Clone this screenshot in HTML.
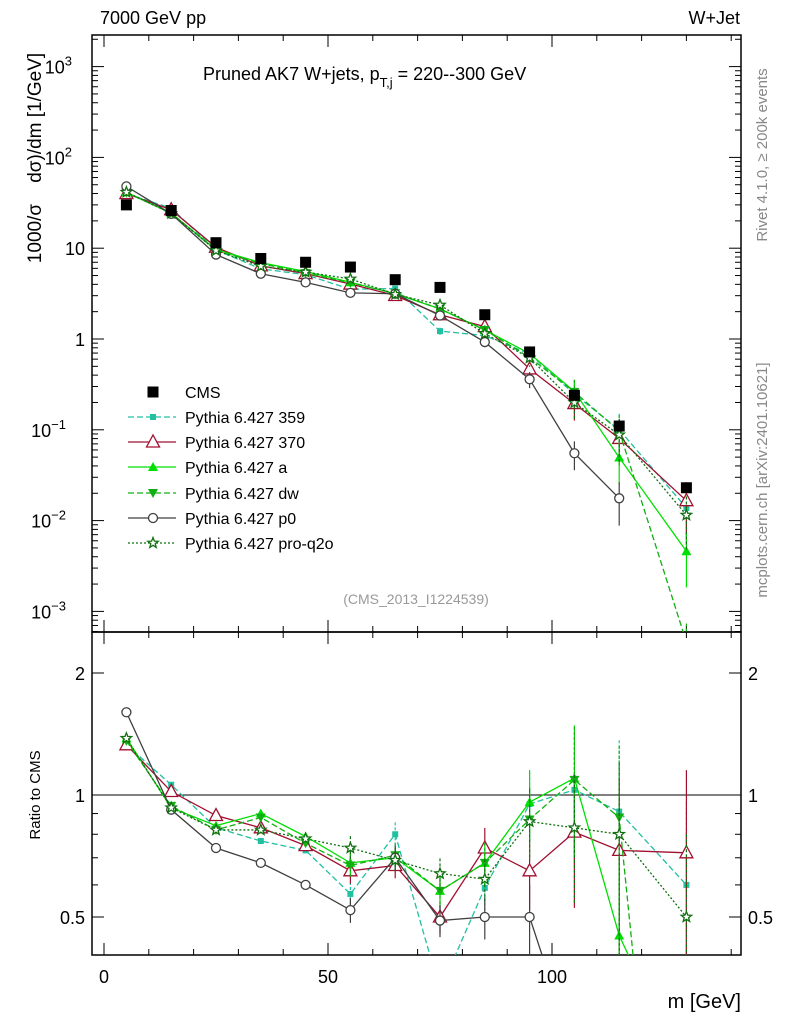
<!DOCTYPE html>
<html><head><meta charset="utf-8"><style>
body{margin:0;background:#fff;overflow:hidden;}
svg{display:block;}
svg text{font-family:"Liberation Sans",sans-serif;}
</style></head><body>
<svg id="c" width="786" height="1024" xmlns="http://www.w3.org/2000/svg"></svg>
<script>
const bins=[5,15,25,35,45,55,65,75,85,95,105,115,130];
const cmsVals=[30,26,11.5,7.7,7.0,6.2,4.5,3.7,1.85,0.72,0.24,0.11,0.023];
const r359=[1.33,1.06,0.83,0.77,0.73,0.57,0.80,0.33,0.59,0.95,1.03,0.91,0.60];
const r370=[1.33,1.02,0.89,0.83,0.75,0.65,0.67,0.50,0.74,0.65,0.81,0.73,0.72];
const rA=[1.38,0.93,0.84,0.90,0.79,0.68,0.70,0.58,0.68,0.96,1.10,0.45,0.2];
const rDW=[1.36,0.94,0.82,0.88,0.76,0.67,0.71,0.58,0.68,0.87,1.09,0.88,0.02];
const rP0=[1.60,0.92,0.74,0.68,0.60,0.52,0.70,0.49,0.50,0.50,0.23,0.16,null];
const rQ2O=[1.38,0.93,0.82,0.82,0.78,0.74,0.69,0.64,0.62,0.86,0.83,0.80,0.50];
const relErr=[0.03,0.03,0.04,0.05,0.06,0.07,0.07,0.09,0.12,0.2,0.35,0.5,0.6];
const xTicks=[0,50,100];
const series=[
 {name:"Pythia 6.427 359",r:r359,col:"#20c0a0",dash:"6,3",m:"sq"},
 {name:"Pythia 6.427 370",r:r370,col:"#a01030",dash:"",m:"tri-open"},
 {name:"Pythia 6.427 a",r:rA,col:"#00e000",dash:"",m:"tri"},
 {name:"Pythia 6.427 dw",r:rDW,col:"#10b010",dash:"6,3",m:"tri-down"},
 {name:"Pythia 6.427 p0",r:rP0,col:"#404040",dash:"",m:"circ"},
 {name:"Pythia 6.427 pro-q2o",r:rQ2O,col:"#107010",dash:"2,2",m:"star"}];
const NS="http://www.w3.org/2000/svg",svg=document.getElementById('c');
const L=92,R=741,T1=35,B1=632,B2=955;
const X=v=>104+v*4.48;
const Y1=v=>339-Math.log10(v)*90.8;
const Y2=v=>795-Math.log2(v)*122;
function el(t,a,p){const e=document.createElementNS(NS,t);for(const k in a)e.setAttribute(k,a[k]);(p||svg).appendChild(e);return e;}
function txt(s,x,y,sz,anch,extra,p){const e=el('text',Object.assign({x:x,y:y,'font-size':sz,'text-anchor':anch||'start'},extra||{}),p);e.textContent=s;return e;}
const defs=el('defs',{});
const c1=el('clipPath',{id:'c1'},defs);el('rect',{x:L,y:T1,width:R-L,height:B1-T1},c1);
const c2=el('clipPath',{id:'c2'},defs);el('rect',{x:L,y:B1,width:R-L,height:B2-B1},c2);
const f1=el('rect',{x:L,y:T1,width:R-L,height:B1-T1,fill:'none',stroke:'#000','stroke-width':1.5});

const f2=el('rect',{x:L,y:B1,width:R-L,height:B2-B1,fill:'none',stroke:'#000','stroke-width':1.5});

for(let v=0;v<=140;v+=10){const maj=v%50==0,len=maj?12:6;const x=X(v);
 [[T1,1],[B1,-1],[B1,1],[B2,-1]].forEach(([y,d])=>el('line',{x1:x,x2:x,y1:y,y2:y+d*len,stroke:'#000'}));}
xTicks.forEach(v=>{const t=txt(String(v),X(v),983,18,'middle');});
for(let e=-4;e<=3;e++)for(let k=1;k<10;k++){const v=k*Math.pow(10,e);const y=Y1(v);if(y<T1||y>B1)continue;const len=k==1?12:6;
 el('line',{x1:L,x2:L+len,y1:y,y2:y,stroke:'#000'});el('line',{x1:R,x2:R-len,y1:y,y2:y,stroke:'#000'});}
const yl=[[3,"10","3"],[2,"10","2"],[1,"10",""],[0,"1",""],[-1,"10","−1"],[-2,"10","−2"],[-3,"10","−3"]];
yl.forEach(([e,b,s])=>{const y=Y1(Math.pow(10,e))+7;const t=txt(b,s?(s.length>1?66:72):85,y,18,'end');
 if(s){const ts=el('tspan',{dy:-8,'font-size':13},t);ts.textContent=s;}
 });
[0.4,0.5,0.6,0.7,0.8,0.9,1,2].forEach(v=>{const y=Y2(v);if(y<B1||y>B2)return;const len=(v==0.5||v==1||v==2)?12:6;
 el('line',{x1:L,x2:L+len,y1:y,y2:y,stroke:'#000'});el('line',{x1:R,x2:R-len,y1:y,y2:y,stroke:'#000'});});
[[2,"2"],[1,"1"],[0.5,"0.5"]].forEach(([v,s])=>{txt(s,85,Y2(v)+7,18,'end');txt(s,748,Y2(v)+7,18,'start');});
el('line',{x1:L,x2:R,y1:Y2(1),y2:Y2(1),stroke:'#000'});
txt("7000 GeV pp",100,24,18);txt("W+Jet",740,24,18,'end');
const ti=txt("Pruned AK7 W+jets, p",203,80,18);const s1=el('tspan',{dy:7,'font-size':13},ti);s1.textContent="T,j";const s2=el('tspan',{dy:-7},ti);s2.textContent=" = 220--300 GeV";

const ylab=txt("1000/σ    dσ)/dm [1/GeV]",0,0,19,'middle',{transform:'translate(41,158) rotate(-90)','xml:space':'preserve',style:'white-space:pre'});
txt("Ratio to CMS",0,0,15,'middle',{transform:'translate(40,795) rotate(-90)'});
const xl=txt("m [GeV]",741,1008,20,'end');
txt("Rivet 4.1.0, ≥ 200k events",0,0,15,'middle',{fill:'#888',transform:'translate(767,155) rotate(-90)'});
txt("mcplots.cern.ch [arXiv:2401.10621]",0,0,15,'middle',{fill:'#888',transform:'translate(767,480) rotate(-90)'});
txt("(CMS_2013_I1224539)",416,604,14,'middle',{fill:'#999'});
function marker(g,m,x,y,col){
 if(m=="sq")el('rect',{x:x-3,y:y-3,width:6,height:6,fill:col},g);
 else if(m=="bigsq")el('rect',{x:x-5.5,y:y-5.5,width:11,height:11,fill:col},g);
 else if(m=="tri-open")el('polygon',{points:`${x},${y-7} ${x-6.5},${y+5} ${x+6.5},${y+5}`,fill:'#fff',stroke:col,'stroke-width':1.3},g);
 else if(m=="tri")el('polygon',{points:`${x},${y-5} ${x-5},${y+4} ${x+5},${y+4}`,fill:col},g);
 else if(m=="tri-down")el('polygon',{points:`${x},${y+5} ${x-5},${y-4} ${x+5},${y-4}`,fill:col},g);
 else if(m=="circ")el('circle',{cx:x,cy:y,r:4.5,fill:'#fff',stroke:col,'stroke-width':1.3},g);
 else if(m=="star"){let p=[];for(let i=0;i<10;i++){const a=-Math.PI/2+i*Math.PI/5,r=i%2?2.3:5.5;p.push((x+r*Math.cos(a)).toFixed(1)+','+(y+r*Math.sin(a)).toFixed(1));}
  el('polygon',{points:p.join(' '),fill:'#fff',stroke:col,'stroke-width':1.3},g);}}
series.forEach((s,si)=>{
 [[Y1,'c1',true],[Y2,'c2',false]].forEach(([Yf,cl,top])=>{
  const g=el('g',{'clip-path':`url(#${cl})`});
  
  const pts=[];bins.forEach((b,i)=>{if(s.r[i]==null)return;const v=top?cmsVals[i]*s.r[i]:s.r[i];pts.push([X(b),Yf(v),v,i]);});
  el('polyline',{points:pts.map(p=>p[0]+','+p[1]).join(' '),fill:'none',stroke:s.col,'stroke-width':1.3,'stroke-dasharray':s.dash},g);
  pts.forEach(p=>{const e=relErr[p[3]];if(e>0.06){const lo=Math.max(p[2]*(1-e),1e-6),hi=p[2]*(1+e);
   el('line',{x1:p[0],x2:p[0],y1:Yf(hi),y2:Yf(lo),stroke:s.col,'stroke-width':1.2,'stroke-dasharray':s.dash?'3,2':''},g);}
   marker(g,s.m,p[0],p[1],s.col);});
 });});
const gc=el('g',{'clip-path':'url(#c1)'});
bins.forEach((b,i)=>marker(gc,'bigsq',X(b),Y1(cmsVals[i]),'#000'));
const lg=el('g',{});
const ly=[392,417,442,467,493,518,543];
marker(lg,'bigsq',153,ly[0],'#000');txt("CMS",185,ly[0]+6,16,'start',{},lg);
series.forEach((s,i)=>{const y=ly[i+1];const e=el('g',{},lg);
 el('line',{x1:128,x2:176,y1:y,y2:y,stroke:s.col,'stroke-width':1.3,'stroke-dasharray':s.dash},e);marker(e,s.m,153,y,s.col);
 txt(s.name,185,y+6,16,'start',{},e);});
</script>
</body></html>
